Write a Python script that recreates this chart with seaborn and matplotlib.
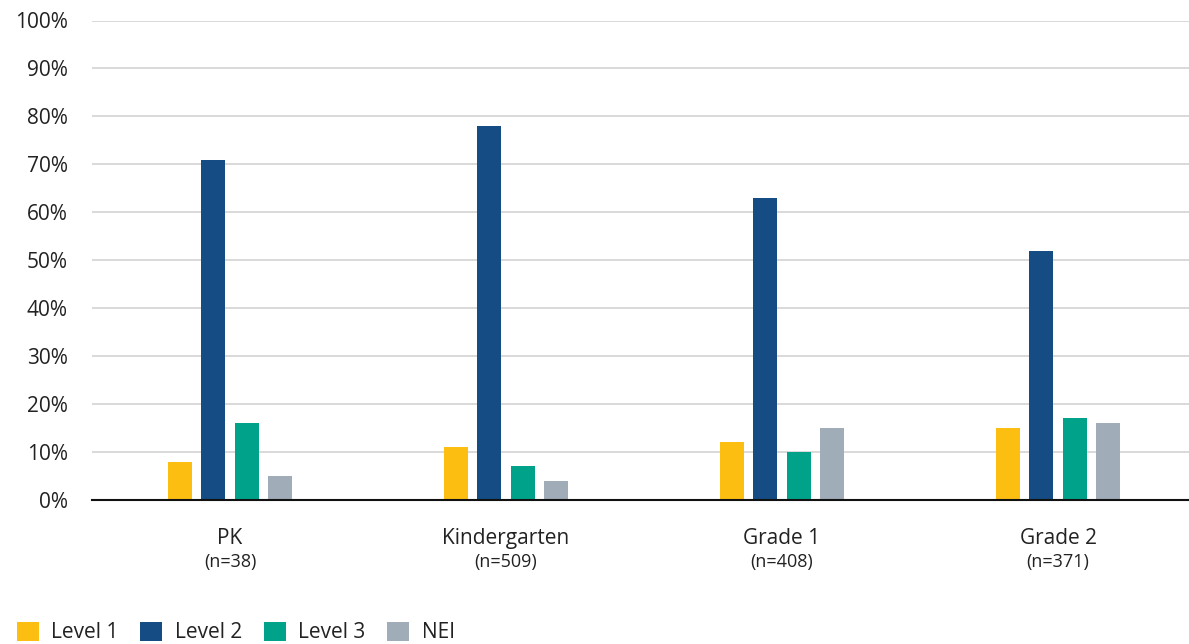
import matplotlib
matplotlib.use("Agg")
import matplotlib.pyplot as plt
import seaborn as sns
import pandas as pd
from matplotlib.patches import Patch
from matplotlib.transforms import blended_transform_factory

grades = ["PK", "Kindergarten", "Grade 1", "Grade 2"]
n_labels = ["(n=38)", "(n=509)", "(n=408)", "(n=371)"]
levels = ["Level 1", "Level 2", "Level 3", "NEI"]
level1 = [8, 11, 12, 15]
level2 = [71, 78, 63, 52]
level3 = [16, 7, 10, 17]
nei = [5, 4, 15, 16]
colors = ["#FDBE12", "#154C83", "#00A38A", "#A1ACB9"]

rows = []
for lvl, vals in zip(levels, [level1, level2, level3, nei]):
    for g, v in zip(grades, vals):
        rows.append({"grade": g, "level": lvl, "value": v})
df = pd.DataFrame(rows)

sns.set_style("white")
plt.rcParams["font.family"] = ["Open Sans", "DejaVu Sans"]

fig = plt.figure(figsize=(11.89, 6.44), dpi=100)
ax = fig.add_axes([92 / 1189, (644 - 500) / 644, (1196 - 92) / 1189, (500 - 20.5) / 644])

sns.barplot(data=df, x="grade", y="value", hue="level", order=grades,
            hue_order=levels, palette=colors, width=0.486, gap=0.28,
            saturation=1, ax=ax, legend=False, linewidth=0)

ax.set_ylim(0, 100)
ax.set_xlim(-0.5, 3.5)
ax.set_yticks(range(0, 101, 10))
ax.set_yticklabels([f"{t}%" for t in range(0, 101, 10)], fontsize=15, color="#222222")
ax.yaxis.grid(True, color="#D3D3D3", linewidth=1.2)
ax.set_axisbelow(True)
for s in ["top", "right", "left"]:
    ax.spines[s].set_visible(False)
ax.spines["bottom"].set_color("#111111")
ax.spines["bottom"].set_linewidth(1.5)
ax.spines["bottom"].set_zorder(5)
ax.tick_params(axis="y", length=0, pad=17.5)
ax.tick_params(axis="x", length=0, pad=20.5)
ax.set_xticks(range(len(grades)))
ax.set_xticklabels(grades, fontsize=15, color="#222222")
ax.set_xlabel("")
ax.set_ylabel("")

trans = blended_transform_factory(ax.transData, fig.transFigure)
for i, nl in enumerate(n_labels):
    ax.text(i, (644 - 562) / 644, nl, transform=trans, ha="center", va="center",
            fontsize=13, color="#222222")

handles = [Patch(facecolor=c, edgecolor="none") for c in colors]
fig.legend(handles, levels, loc="lower left", bbox_to_anchor=(0.007, -0.012),
           ncol=4, frameon=False, fontsize=15, handlelength=1.05, handleheight=1.05,
           handletextpad=0.6, columnspacing=1.05, borderaxespad=0,
           labelcolor="#222222")

fig.savefig("out.png", dpi=100)
